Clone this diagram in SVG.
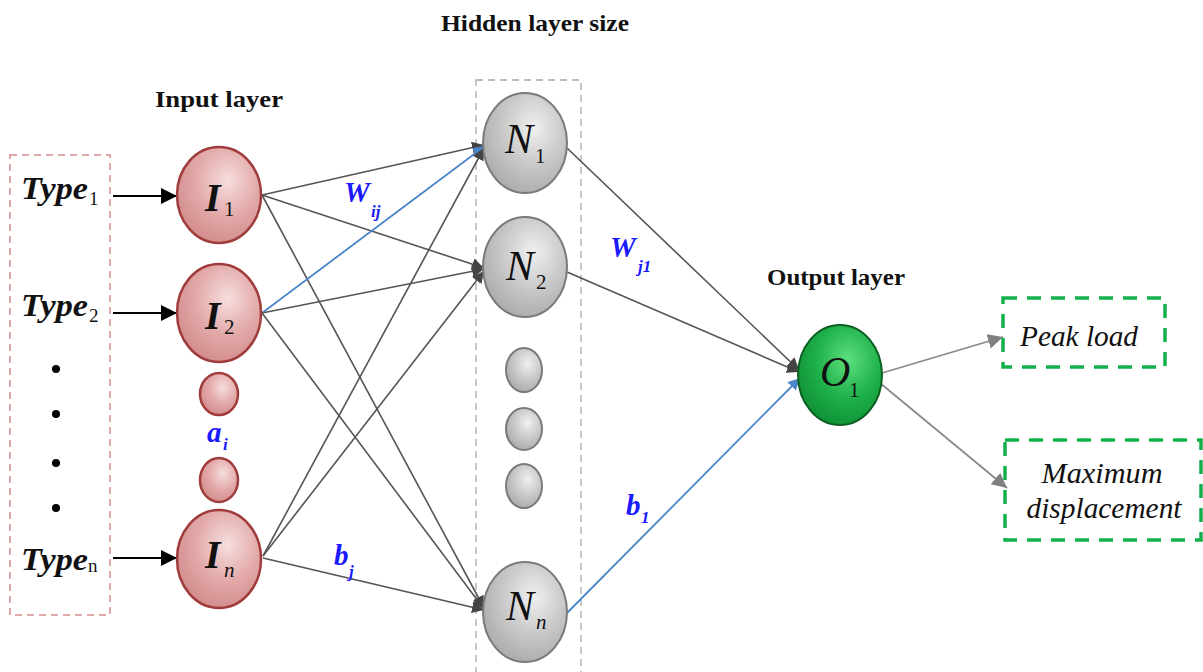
<svg xmlns="http://www.w3.org/2000/svg" width="1203" height="672" viewBox="0 0 1203 672">
<style>
.title{font-family:"Liberation Serif",serif;font-weight:bold;font-size:24px;fill:#111}
.type{font-family:"Liberation Serif",serif;font-weight:bold;font-style:italic;font-size:32px;fill:#111}
.sub{font-family:"Liberation Serif",serif;font-weight:normal;font-style:normal;font-size:19px;fill:#111}
.nl{font-family:"Liberation Serif",serif;font-style:italic;font-size:42px;fill:#111}
.nlb{font-family:"Liberation Serif",serif;font-style:italic;font-weight:bold;font-size:40px;fill:#111}
.nsub{font-family:"Liberation Serif",serif;font-style:normal;font-weight:normal;font-size:21px;fill:#111}
.nsubi{font-family:"Liberation Serif",serif;font-style:italic;font-weight:normal;font-size:21px;fill:#111}
.blue{font-family:"Liberation Serif",serif;font-style:italic;font-weight:bold;font-size:29px;fill:#1a1aff}
.bsub{font-family:"Liberation Serif",serif;font-style:italic;font-weight:bold;font-size:17px;fill:#1a1aff}
.out{font-family:"Liberation Serif",serif;font-style:italic;font-size:29px;fill:#111}
.c{stroke:#555;stroke-width:1.6;fill:none}
.cb{stroke:#4a86c8;stroke-width:1.8;fill:none}
.co{stroke:#8a8a8a;stroke-width:1.8;fill:none}
.ca{stroke:#000;stroke-width:2.2;fill:none}
.inC{fill:url(#gPink);stroke:#a03c3c;stroke-width:2.5}
.hC{fill:url(#gGray);stroke:#7a7a7a;stroke-width:2}
.oC{fill:url(#gGreen);stroke:#0b5f22;stroke-width:2}
</style>
<defs>
<radialGradient id="gPink" cx="0.6" cy="0.35" r="0.75">
<stop offset="0" stop-color="#f6dede"/><stop offset="0.5" stop-color="#e3a9a9"/><stop offset="1" stop-color="#cf8585"/>
</radialGradient>
<radialGradient id="gGray" cx="0.6" cy="0.35" r="0.75">
<stop offset="0" stop-color="#f0f0f0"/><stop offset="0.5" stop-color="#c8c8c8"/><stop offset="1" stop-color="#a5a5a5"/>
</radialGradient>
<radialGradient id="gGreen" cx="0.6" cy="0.35" r="0.75">
<stop offset="0" stop-color="#5de07f"/><stop offset="0.5" stop-color="#1fb14a"/><stop offset="1" stop-color="#0c8a32"/>
</radialGradient>
<marker id="aDark" viewBox="0 0 10 10" refX="10" refY="5" markerWidth="12" markerHeight="12" orient="auto" markerUnits="userSpaceOnUse"><path d="M0,0 L10,5 L0,10 z" fill="#444"/></marker>
<marker id="aBlue" viewBox="0 0 10 10" refX="10" refY="5" markerWidth="12" markerHeight="12" orient="auto" markerUnits="userSpaceOnUse"><path d="M0,0 L10,5 L0,10 z" fill="#4a86c8"/></marker>
<marker id="aGray" viewBox="0 0 10 10" refX="10" refY="5" markerWidth="15" markerHeight="15" orient="auto" markerUnits="userSpaceOnUse"><path d="M0,0 L10,5 L0,10 z" fill="#808080"/></marker>
<marker id="aBig" viewBox="0 0 10 10" refX="10" refY="5" markerWidth="16" markerHeight="16" orient="auto" markerUnits="userSpaceOnUse"><path d="M0,0 L10,5 L0,10 z" fill="#000"/></marker>
</defs>
<rect width="1203" height="672" fill="#fff"/>

<g id="titles">
<text class="title" x="535" y="31" text-anchor="middle" textLength="188" lengthAdjust="spacingAndGlyphs">Hidden layer size</text>
<text class="title" x="219" y="107" text-anchor="middle" textLength="128" lengthAdjust="spacingAndGlyphs">Input layer</text>
<text class="title" x="836" y="285" text-anchor="middle" textLength="138" lengthAdjust="spacingAndGlyphs">Output layer</text>
</g>

<g id="input-box">
<rect x="10" y="155" width="100" height="460" fill="none" stroke="#d98a8a" stroke-width="1.5" stroke-dasharray="7,5"/>
<text class="type" x="21" y="199"><tspan textLength="67" lengthAdjust="spacingAndGlyphs">Type</tspan><tspan class="sub" x="89" y="205">1</tspan></text>
<text class="type" x="21" y="316"><tspan textLength="67" lengthAdjust="spacingAndGlyphs">Type</tspan><tspan class="sub" x="89" y="322">2</tspan></text>
<text class="type" x="21" y="570"><tspan textLength="67" lengthAdjust="spacingAndGlyphs">Type</tspan><tspan class="sub" x="88" y="572" font-size="22">n</tspan></text>
<circle cx="56" cy="369" r="4" fill="#000"/>
<circle cx="56" cy="414" r="4" fill="#000"/>
<circle cx="56" cy="463" r="4" fill="#000"/>
<circle cx="56" cy="508" r="4" fill="#000"/>
</g>

<g id="hidden-box">
<rect x="476" y="80" width="105" height="600" fill="none" stroke="#aaa" stroke-width="1.3" stroke-dasharray="7,5"/>
</g>

<g id="connectors">
<line class="ca" x1="113" y1="196" x2="177" y2="196" marker-end="url(#aBig)"/>
<line class="ca" x1="113" y1="313" x2="177" y2="313" marker-end="url(#aBig)"/>
<line class="ca" x1="113" y1="558" x2="177" y2="558" marker-end="url(#aBig)"/>
<line class="c" x1="262" y1="195" x2="484" y2="145" marker-end="url(#aDark)"/>
<line class="c" x1="262" y1="195" x2="484" y2="268" marker-end="url(#aDark)"/>
<line class="c" x1="262" y1="195" x2="484" y2="608" marker-end="url(#aDark)"/>
<line class="cb" x1="262" y1="313" x2="485" y2="146" marker-end="url(#aBlue)"/>
<line class="c" x1="262" y1="313" x2="484" y2="269" marker-end="url(#aDark)"/>
<line class="c" x1="262" y1="313" x2="484" y2="609" marker-end="url(#aDark)"/>
<line class="c" x1="263" y1="556" x2="484" y2="148" marker-end="url(#aDark)"/>
<line class="c" x1="263" y1="556" x2="484" y2="271" marker-end="url(#aDark)"/>
<line class="c" x1="263" y1="558" x2="484" y2="610" marker-end="url(#aDark)"/>
<line class="c" x1="567" y1="148" x2="799" y2="370" marker-end="url(#aDark)"/>
<line class="c" x1="567" y1="272" x2="799" y2="372" marker-end="url(#aDark)"/>
<line class="cb" x1="567" y1="613" x2="800" y2="378" marker-end="url(#aBlue)"/>
<line class="co" x1="882" y1="373" x2="1003" y2="337" marker-end="url(#aGray)"/>
<line class="co" x1="880" y1="383" x2="1007" y2="488" marker-end="url(#aGray)"/>
</g>

<g id="I1"><ellipse class="inC" cx="219" cy="195" rx="42" ry="48"/><text class="nlb" x="205" y="211">I<tspan class="nsub" x="224" y="216">1</tspan></text></g>
<g id="I2"><ellipse class="inC" cx="219" cy="313" rx="42" ry="49"/><text class="nlb" x="205" y="329">I<tspan class="nsub" x="224" y="334">2</tspan></text></g>
<g id="Ia"><ellipse class="inC" cx="219" cy="394" rx="19" ry="21"/></g>
<g id="Ib"><ellipse class="inC" cx="219" cy="480" rx="19" ry="22"/></g>
<g id="In"><ellipse class="inC" cx="219" cy="559" rx="42" ry="49"/><text class="nlb" x="205" y="568">I<tspan class="nsubi" x="224" y="577">n</tspan></text></g>

<g id="N1"><ellipse class="hC" cx="525" cy="143" rx="42" ry="50"/><text class="nl" x="505" y="153">N<tspan class="nsub" x="535" y="163">1</tspan></text></g>
<g id="N2"><ellipse class="hC" cx="525" cy="267" rx="42" ry="50"/><text class="nl" x="506" y="280">N<tspan class="nsub" x="536" y="289">2</tspan></text></g>
<g id="Ha"><ellipse class="hC" cx="524" cy="370" rx="18" ry="22"/></g>
<g id="Hb"><ellipse class="hC" cx="524" cy="429" rx="18" ry="21"/></g>
<g id="Hc"><ellipse class="hC" cx="524" cy="486" rx="18" ry="22"/></g>
<g id="Nn"><ellipse class="hC" cx="525" cy="612" rx="42" ry="50"/><text class="nl" x="506" y="620">N<tspan class="nsubi" x="536" y="629">n</tspan></text></g>

<g id="O1"><ellipse class="oC" cx="840" cy="375" rx="42" ry="50"/><text class="nl" x="820" y="386" font-size="34">O<tspan class="nsub" x="849" y="397">1</tspan></text></g>

<g id="peak"><rect x="1003" y="298" width="162" height="69" fill="none" stroke="#12b04a" stroke-width="3.5" stroke-dasharray="14,10"/><text class="out" x="1079" y="346" text-anchor="middle" textLength="118" lengthAdjust="spacingAndGlyphs">Peak load</text></g>
<g id="maxdisp"><rect x="1005" y="440" width="196" height="100" fill="none" stroke="#12b04a" stroke-width="3.5" stroke-dasharray="14,10"/><text class="out" x="1102" y="483" text-anchor="middle" textLength="121" lengthAdjust="spacingAndGlyphs">Maximum</text><text class="out" x="1104" y="518" text-anchor="middle" textLength="155" lengthAdjust="spacingAndGlyphs">displacement</text></g>

<g id="labels">
<text class="blue" x="344" y="202">W<tspan class="bsub" x="371" y="217">ij</tspan></text>
<text class="blue" x="610" y="257">W<tspan class="bsub" x="638" y="272">j1</tspan></text>
<text class="blue" x="207" y="442">a<tspan class="bsub" x="223" y="450">i</tspan></text>
<text class="blue" x="334" y="565">b<tspan class="bsub" x="349" y="577">j</tspan></text>
<text class="blue" x="626" y="515">b<tspan class="bsub" x="641" y="523">1</tspan></text>
</g>
</svg>
